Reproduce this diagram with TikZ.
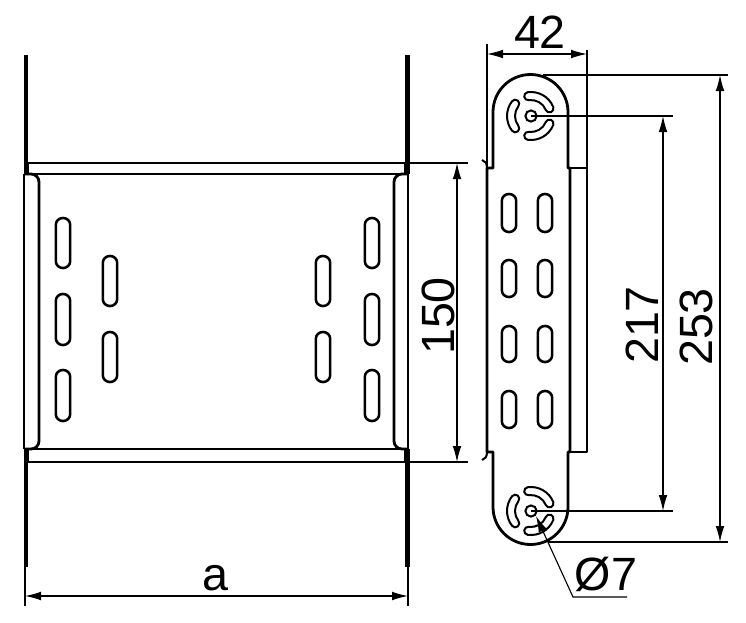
\documentclass[tikz,border=0pt]{standalone}
\usepackage{fontspec}
\setmainfont{Liberation Sans}
\usetikzlibrary{arrows.meta,calc}
\tikzset{
    part/.style={draw, line width=2.1pt, line join=round},
    slot/.style={draw, line width=1.9pt, rounded corners=5.2pt},
    rail/.style={draw, line width=3.4pt},
    thin/.style={draw, line width=0.85pt},
    dim/.style={draw, line width=0.85pt, {Latex[length=12pt,width=6.5pt]}-{Latex[length=12pt,width=6.5pt]}},
    label/.style={font=\fontsize{35}{35}\selectfont, inner sep=0pt}
}
\newcommand{\longslot}[3]{\draw[slot] (#1-7.2,#2) rectangle (#1+7.2,#3);}
\newcommand{\trislot}[2]{
    \begin{scope}[shift={(#1,#2)}]
        \draw[line width=1.5pt] (0,0) circle (5.6);
        \foreach \ang in {60,180,300} {
            \draw[line width=1.5pt] (\ang-38:24) arc (\ang-38:\ang+38:24)
                arc (\ang+38:\ang+218:4) arc (\ang+38:\ang-38:16)
                arc (\ang+142:\ang+322:4) -- cycle;
        }
    \end{scope}
}
\begin{document}
\begin{tikzpicture}[x=0.75pt, y=-0.75pt]
    \useasboundingbox (0,0) rectangle (746,622);
    % front view
    \draw[rail] (26,55) -- (26,174);
    \draw[rail] (26,449) -- (26,567);
    \draw[rail] (407.5,55) -- (407.5,174);
    \draw[rail] (407.5,449) -- (407.5,567);
    \draw[part] (28,174) -- (28,163) -- (405,163) -- (405,174);
    \draw[part] (28,449) -- (28,462) -- (405,462) -- (405,449);
    \draw[part] (24,174) -- (405,174);
    \draw[part] (24,449) -- (405,449);
    \draw[part] (24,174) -- (24,449);
    \draw[part] (408,174) -- (408,449);
    \draw[part, rounded corners=6pt] (24,174) -- (39,174) -- (39,449) -- (24,449);
    \draw[part, rounded corners=6pt] (408,174) -- (394,174) -- (394,449) -- (408,449);
    \longslot{63}{218}{268}
    \longslot{63}{294}{345}
    \longslot{63}{370}{421}
    \longslot{110}{256}{306}
    \longslot{110}{332}{382}
    \longslot{323}{256}{306}
    \longslot{323}{332}{382}
    \longslot{372}{218}{268}
    \longslot{372}{294}{345}
    \longslot{372}{370}{421}
    % side view
    \draw[part] (487,168) -- (493,168) -- (493,112) arc (180:360:37.5) -- (568,168) -- (570,168) -- (570,452)
        -- (568,452) -- (568,507) arc (0:180:37.5) -- (493,452) -- (487,452) -- cycle;
    \draw[line width=1.5pt] (482,160) .. controls (485,161) and (487,163) .. (487,168);
    \draw[line width=1.5pt] (482,460) .. controls (485,459) and (487,457) .. (487,452);
    \draw[part, line width=1.6pt] (570,168) -- (587,168) -- (587,452) -- (570,452);
    \foreach \px in {509,545} {
        \foreach \py/\qy in {194/232,260/297,326/362,391/428} {
            \longslot{\px}{\py}{\qy}
        }
    }
    \trislot{531}{116}
    \trislot{531}{511}
    % dimensions
    \draw[thin] (25,567) -- (25,606);
    \draw[thin] (408,567) -- (408,606);
    \draw[dim] (25,596) -- (408,596);
    \node[label] (dimA) at (215,578) {a};
    \draw[thin] (409,163) -- (468,163);
    \draw[thin] (409,462) -- (468,462);
    \draw[dim] (457,163) -- (457,462);
    \node[label, rotate=90] (dimW) at (438,316) {150};
    \draw[thin] (487,44) -- (487,168);
    \draw[thin] (587,50) -- (587,168);
    \draw[dim] (487,54) -- (587,54);
    \node[label] (dimS) at (540,32) {42};
    \draw[thin] (531,116) -- (673,116);
    \draw[thin] (531,511) -- (673,511);
    \draw[dim] (663,116) -- (663,511);
    \node[label, rotate=90] (dimH) at (642,325) {217};
    \draw[thin] (543,75) -- (728,75);
    \draw[thin] (548,542) -- (728,542);
    \draw[dim] (720,75) -- (720,542);
    \node[label, rotate=90] (dimT) at (696,327) {253};
    \node[label] (dimD) at (606,574) {Ø7};
    \draw[thin, {Latex[length=12pt,width=6.5pt]}-] (536,516) -- (573,597) -- (627,597);
\end{tikzpicture}
\end{document}
